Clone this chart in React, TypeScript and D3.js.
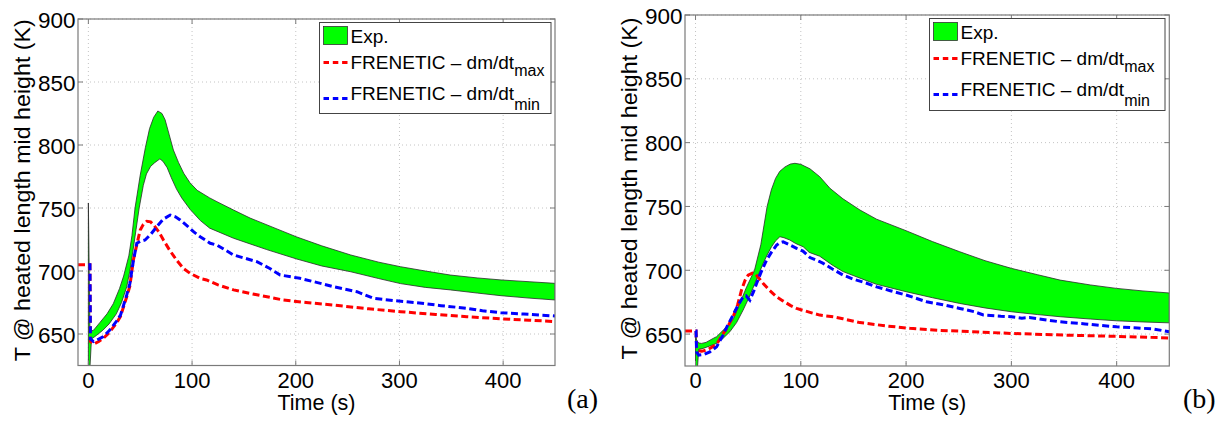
import React from "react";
import * as d3 from "d3";

type Pt = [number, number];

const xTicks = [0, 100, 200, 300, 400];
const yTicks = [650, 700, 750, 800, 850, 900];
const xDomain = [-10, 450];
const yDomain = [625, 900];

// panel (a)
const expUpperA: Pt[] = [
  [0, 754], [1.5, 652], [5, 653], [11, 659], [18, 666], [24, 674], [30, 686], [34, 696],
  [39, 712], [42, 728], [45, 750], [50, 776], [55, 798], [59, 813], [63, 822], [67, 827],
  [71, 825], [74, 820], [78, 808], [82, 796], [87, 786], [92, 777.5], [98, 770], [105, 764],
  [117, 758], [124, 755], [140, 748.4], [156, 742], [180, 734], [201, 727], [225, 720],
  [253, 712.7], [280, 707], [301, 703.4], [325, 700], [349, 696.8], [375, 694.5],
  [398, 692.9], [425, 691.5], [450, 690.2],
];
const expLowerA: Pt[] = [
  [0, 600], [3, 646], [8, 649], [14, 653], [20, 658], [27, 666], [32, 675], [37, 687.5],
  [40, 700], [43, 716], [46, 733], [49, 750], [53, 768], [56, 777], [60, 783], [64, 786],
  [69, 789], [72, 787], [76, 782], [80, 774], [85, 765], [90, 758], [98, 749], [108, 740],
  [117, 734], [140, 726], [172, 717], [201, 709.5], [225, 704], [253, 699.4], [280, 694],
  [301, 690], [325, 687], [349, 685], [375, 682.5], [398, 680.4], [425, 678.5], [450, 677],
];
const redA: Pt[] = [
  [-10, 705], [1.5, 705], [2, 644], [5, 642], [10, 644], [14.5, 646.6], [20, 651],
  [27, 658.5], [31, 664], [37, 679.6], [40, 688], [43.4, 708.7], [47, 722], [50, 732.5],
  [53, 737], [56.4, 739.5], [60, 739], [63, 736.5], [68, 731], [72.4, 724.6], [78, 717],
  [85, 708.7], [91.7, 702], [98, 698.2], [108, 694], [114, 692.9], [125, 689], [140, 685],
  [160, 681.5], [188, 677], [210, 675], [236, 673], [270, 670], [301, 667.7], [335, 665.5],
  [365, 663.7], [400, 662], [425, 661], [450, 659.8],
];
const blueA: Pt[] = [
  [0, 705], [1.5, 705], [2, 646], [5, 644], [10, 646], [14.5, 648], [20, 652.5], [27, 660],
  [31, 665], [37, 681], [40, 690], [43.4, 708], [46.7, 722], [50, 723.5], [54.7, 724.6],
  [60, 729], [66, 735.2], [72, 741], [78.9, 744.4], [84, 743], [88.5, 740.5], [95, 736],
  [101.4, 731.2], [107.8, 727.2], [117.5, 722], [124, 720.6], [140, 712.7], [162.5, 707.4],
  [175, 702], [185, 696.8], [204, 694.2], [220, 691], [236.5, 687.5], [259, 683.6],
  [275, 678.3], [295, 676.5], [317, 674.8], [340, 672.5], [365, 670.4], [380, 668.5],
  [397.7, 666.9], [420, 665.8], [450, 664.3],
];

// panel (b)
const expUpperB: Pt[] = [
  [0, 652], [1, 645.3], [3, 643], [5.7, 642.7], [10, 643.5], [16.7, 646.6], [20, 648],
  [29.5, 655.7], [36, 662], [42.1, 674], [48, 686], [52, 693], [56, 700], [62, 720],
  [68, 750], [72, 763], [76, 772], [80, 777.5], [85, 781], [90, 783.2], [94.4, 783.8],
  [100, 783], [108.7, 779.5], [118, 773.3], [127.7, 764.2], [140, 756], [156.2, 747.2],
  [172, 740], [200, 731], [225, 722.5], [251, 714.5], [275, 707.5], [300, 701.5],
  [325, 696.5], [346.3, 692.3], [375, 688.5], [400, 685.8], [425, 683.8], [450, 682.2],
];
const expLowerB: Pt[] = [
  [0, 600], [3, 638], [7.2, 638.8], [13, 640.5], [20, 642.7], [26, 646.5], [32.6, 651.8],
  [39, 659], [45.2, 668.8], [51, 679], [56.4, 689.7], [60, 697], [64.3, 705.4], [68, 712],
  [72.2, 718.4], [76, 723], [80.1, 726.3], [84, 725.5], [89.6, 723.7], [95, 721],
  [102.3, 718.4], [108, 714], [118, 711], [130, 704], [140, 699], [162, 692], [172, 689],
  [200, 683.2], [225, 678.5], [251, 674], [275, 670.5], [300, 667.5], [325, 665.3],
  [346.3, 663.6], [375, 661.8], [400, 660.4], [425, 659.5], [450, 658.8],
];
const redB: Pt[] = [
  [-10, 652.5], [0.5, 652.5], [1, 640], [3, 637], [6, 636.5], [12, 638], [20, 642],
  [26, 650], [30, 655], [35.7, 663.6], [40, 673], [43.7, 684.5], [47, 692], [50, 696.2],
  [54, 697.8], [57, 697], [60, 694], [64.3, 689.7], [70, 684.5], [77, 679.2], [83, 676],
  [90, 672.5], [96, 670.1], [108.7, 667], [118, 664.9], [131, 663.5], [140, 662],
  [156, 659], [162.5, 658.4], [180, 656.5], [203.7, 654.5], [230, 653], [260, 652],
  [300, 650.5], [350, 649.2], [400, 648.2], [450, 647],
];
const blueB: Pt[] = [
  [0, 652.5], [0.5, 652.5], [1, 636], [3, 633.5], [8, 634], [13.6, 636], [20, 640],
  [26, 649], [30, 656], [35.7, 665], [40, 672], [45.2, 679.2], [48, 680], [51.6, 676.6],
  [55, 683], [58, 689.7], [62, 698], [67.5, 708], [72, 714], [77, 719.7], [80, 721.5],
  [83.3, 722.3], [88, 720.5], [96, 717.2], [102, 715], [108.7, 710], [118, 706.7],
  [121.3, 705.4], [130, 701], [140.3, 696.2], [150, 693], [162, 690], [172, 687],
  [185, 684], [200, 680.6], [219.6, 675.3], [235, 673], [251, 670.1], [265, 667.5],
  [273.4, 665], [290, 664], [300, 663.6], [310, 662.5], [317, 663], [330, 661.5],
  [346.3, 659.6], [370, 658], [385, 656.8], [400, 655.7], [420, 654.8], [435, 654],
  [450, 651.8],
];

const SANS = "'Liberation Sans', Arial, Helvetica, sans-serif";
const SERIF = "'Liberation Serif', 'Times New Roman', serif";

type Frame = { left: number; top: number; right: number; bottom: number };

function Panel(props: {
  id: string;
  frame: Frame;
  upper: Pt[];
  lower: Pt[];
  red: Pt[];
  blue: Pt[];
  legend: { x: number; y: number; w: number; h: number };
  letter: string;
  letterX: number;
}) {
  const { id, frame, upper, lower, red, blue, legend, letter, letterX } = props;
  const x = d3.scaleLinear().domain(xDomain).range([frame.left, frame.right]);
  const y = d3.scaleLinear().domain(yDomain).range([frame.bottom, frame.top]);
  const line = d3
    .line<Pt>()
    .x(d => x(d[0]))
    .y(d => y(d[1]));
  const band = line([...upper, ...lower.slice().reverse()]) + "Z";
  const w = frame.right - frame.left;
  const h = frame.bottom - frame.top;
  const tickLen = 5;
  const lx = legend.x;
  const ly = legend.y;

  return (
    <g>
      <defs>
        <clipPath id={id}>
          <rect x={frame.left} y={frame.top} width={w} height={h} />
        </clipPath>
      </defs>
      {/* grid */}
      {xTicks.map(t => (
        <line key={"gx" + t} x1={x(t)} x2={x(t)} y1={frame.top} y2={frame.bottom}
          stroke="#c4c4c4" strokeWidth={1} strokeDasharray="1,3" />
      ))}
      {yTicks.map(t => (
        <line key={"gy" + t} x1={frame.left} x2={frame.right} y1={y(t)} y2={y(t)}
          stroke="#c4c4c4" strokeWidth={1} strokeDasharray="1,3" />
      ))}
      <g clipPath={`url(#${id})`}>
        <path d={band} fill="#00ff00" stroke="#2a2a2a" strokeWidth={0.8} />
        <path d={line(red) || ""} fill="none" stroke="#ff0000" strokeWidth={3}
          strokeDasharray="7,3.5" />
        <path d={line(blue) || ""} fill="none" stroke="#0000ff" strokeWidth={3}
          strokeDasharray="7,3.5" />
      </g>
      {/* frame and ticks */}
      <rect x={frame.left} y={frame.top} width={w} height={h} fill="none"
        stroke="#7a7a7a" strokeWidth={1.2} />
      {xTicks.map(t => (
        <g key={"tx" + t} stroke="#7a7a7a" strokeWidth={1}>
          <line x1={x(t)} x2={x(t)} y1={frame.bottom} y2={frame.bottom - tickLen} />
          <line x1={x(t)} x2={x(t)} y1={frame.top} y2={frame.top + tickLen} />
        </g>
      ))}
      {yTicks.map(t => (
        <g key={"ty" + t} stroke="#7a7a7a" strokeWidth={1}>
          <line x1={frame.left} x2={frame.left + tickLen} y1={y(t)} y2={y(t)} />
          <line x1={frame.right} x2={frame.right - tickLen} y1={y(t)} y2={y(t)} />
        </g>
      ))}
      {xTicks.map(t => (
        <text key={"lx" + t} x={x(t)} y={388} textAnchor="middle" fontSize={22}
          fontFamily={SANS} fill="#000">{t}</text>
      ))}
      {yTicks.map(t => (
        <text key={"ly" + t} x={frame.left - 2.5} y={y(t) + 8.5} textAnchor="end"
          fontSize={22.5} fontFamily={SANS} fill="#000">{t}</text>
      ))}
      <text x={(frame.left + frame.right) / 2} y={410} textAnchor="middle" fontSize={21.5}
        fontFamily={SANS} fill="#000">Time (s)</text>
      <text transform={`translate(${frame.left - 48.5},${(frame.top + frame.bottom) / 2 - 2}) rotate(-90)`}
        textAnchor="middle" fontSize={22} fontFamily={SANS} fill="#000"
        textLength={342} lengthAdjust="spacingAndGlyphs">
        T @ heated length mid height (K)
      </text>
      {/* legend */}
      <rect x={lx} y={ly} width={legend.w} height={legend.h} fill="#fff" stroke="#444"
        strokeWidth={1} />
      <rect x={lx + 4} y={ly + 4} width={24} height={18} fill="#00ff00" stroke="#333"
        strokeWidth={0.8} />
      <text x={lx + 31} y={ly + 20} fontSize={19} fontFamily={SANS} fill="#000">Exp.</text>
      <line x1={lx + 4} x2={lx + 28} y1={ly + 40} y2={ly + 40} stroke="#ff0000"
        strokeWidth={3} strokeDasharray="5.5,3.8" />
      <text x={lx + 31} y={ly + 46} fontSize={19} fontFamily={SANS} fill="#000">
        FRENETIC – dm/dt<tspan dy={7.5} fontSize={16}>max</tspan>
      </text>
      <line x1={lx + 4} x2={lx + 28} y1={ly + 76} y2={ly + 76} stroke="#0000ff"
        strokeWidth={3} strokeDasharray="5.5,3.8" />
      <text x={lx + 31} y={ly + 77} fontSize={19} fontFamily={SANS} fill="#000">
        FRENETIC – dm/dt<tspan dy={10} fontSize={16}>min</tspan>
      </text>
      <text x={letterX} y={408} fontSize={28} fontFamily={SERIF} fill="#000">{letter}</text>
    </g>
  );
}

export default function App() {
  return (
    <svg width={1227} height={421} style={{ position: "absolute", left: 0, top: 0, background: "#fff" }}>
      <rect x={0} y={0} width={1227} height={421} fill="#fff" />
      <Panel id="clipA" frame={{ left: 78, top: 19, right: 555, bottom: 365.5 }}
        upper={expUpperA} lower={expLowerA} red={redA} blue={blueA}
        legend={{ x: 319.5, y: 22.5, w: 231.5, h: 91 }} letter="(a)" letterX={567} />
      <Panel id="clipB" frame={{ left: 685, top: 15, right: 1169.3, bottom: 366 }}
        upper={expUpperB} lower={expLowerB} red={redB} blue={blueB}
        legend={{ x: 929.5, y: 18.5, w: 235.5, h: 92 }} letter="(b)" letterX={1183} />
    </svg>
  );
}
